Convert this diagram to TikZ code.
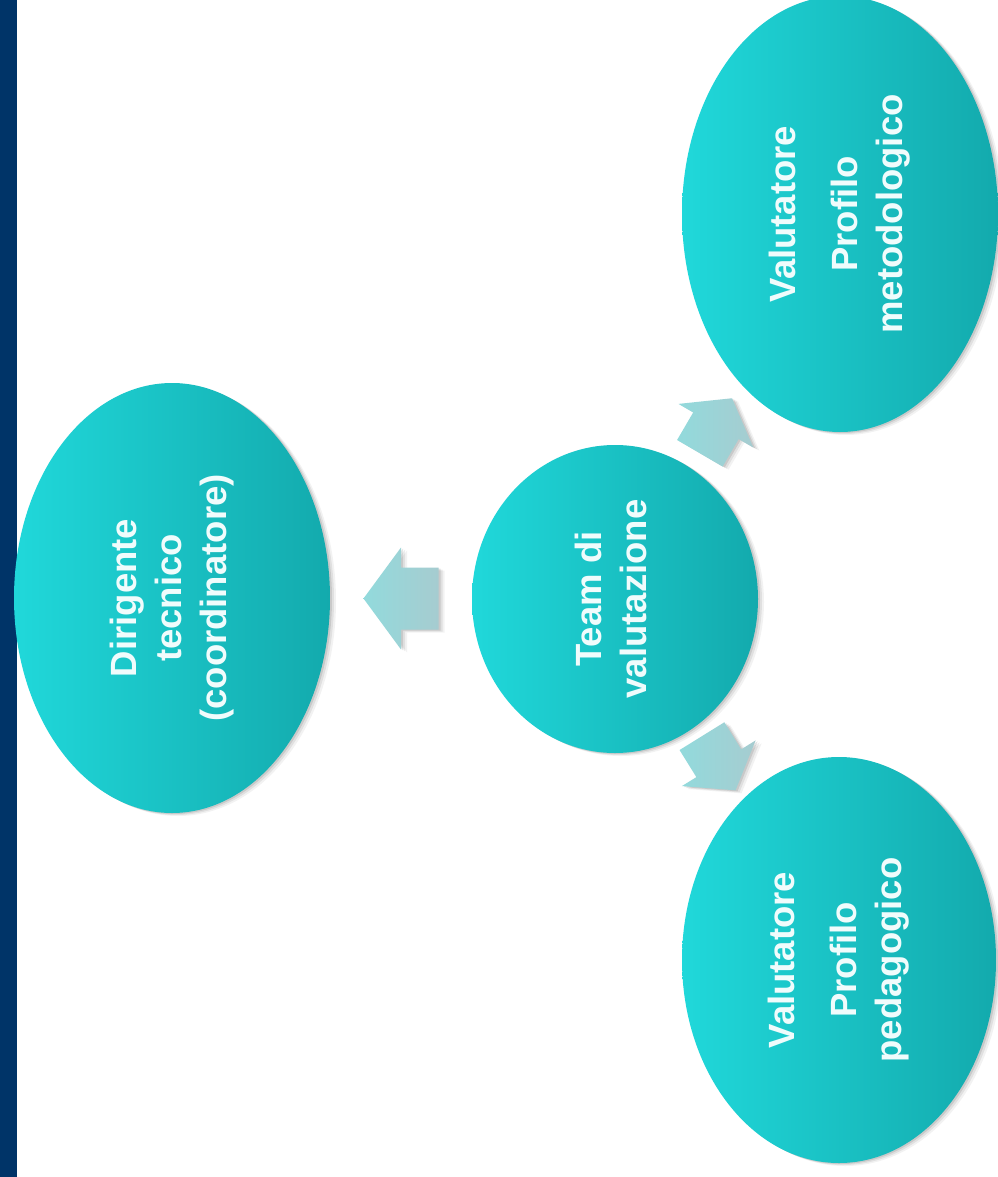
\documentclass[tikz,border=0pt]{standalone}
\usepackage{fontspec}
\setmainfont{Liberation Sans}
\usepackage{graphicx}
\usetikzlibrary{shapes.geometric,shadows,calc}
\definecolor{barblue}{RGB}{0,52,104}
\definecolor{tealL}{RGB}{32,216,218}
\definecolor{tealR}{RGB}{19,170,173}
\definecolor{arrL}{RGB}{146,218,220}
\definecolor{arrR}{RGB}{166,204,208}
\definecolor{txt}{RGB}{240,252,252}
\tikzset{
  softshadow/.style={
    drop shadow={shadow xshift=2pt,shadow yshift=-1pt,opacity=.10,fill=black},
    drop shadow={shadow xshift=4pt,shadow yshift=-2pt,opacity=.07,fill=black},
    drop shadow={shadow xshift=6pt,shadow yshift=-3pt,opacity=.05,fill=black}},
  bubble/.style={ellipse, inner sep=0pt, left color=tealL, right color=tealR,
    softshadow, text=txt, font=\fontsize{36.5}{45}\selectfont\bfseries},
  blockarrow/.style={left color=arrL, right color=arrR, softshadow}
}
\newcommand{\vtext}[1]{\rotatebox{90}{\begin{tabular}{@{}c@{}}#1\end{tabular}}}
\begin{document}
\begin{tikzpicture}[x=1pt,y=-1pt]
\useasboundingbox (0,0) rectangle (997,1177);
\fill[white] (0,0) rectangle (997,1177);
\fill[barblue] (0,0) rectangle (17,1177);

\node[bubble, minimum width=316pt, minimum height=430pt] (dir) at (172,598)
  {\vtext{Dirigente\\tecnico\\(coordinatore)}};
\node[bubble, minimum width=286pt, minimum height=308pt] (team) at (615,599)
  {\vtext{Team di\\valutazione}};
\node[bubble, minimum width=316pt, minimum height=436pt] (met) at (840,214)
  {\vtext{Valutatore\\[17pt]Profilo\\metodologico}};
\node[bubble, minimum width=314pt, minimum height=406pt] (ped) at (839,960)
  {\vtext{Valutatore\\[17pt]Profilo\\pedagogico}};

\coordinate (a1) at ($(team.west)!0.5!(dir.east)$);
\coordinate (a2) at ($(team.59.7)!0.5!(met.239.7)$);
\coordinate (a3) at ($(team.-58.2)!0.5!(ped.121.8)$);

\begin{scope}[shift={(a1)}, rotate=180]
  \path[blockarrow] (37.5,0) -- (0,51) -- (0,31) -- (-37.5,31) -- (-37.5,-31)
    -- (0,-31) -- (0,-51) -- cycle;
\end{scope}
\begin{scope}[shift={(a2)}, rotate=59.7, scale=0.85]
  \path[blockarrow] (37.5,0) -- (0,51) -- (0,31) -- (-37.5,31) -- (-37.5,-31)
    -- (0,-31) -- (0,-51) -- cycle;
\end{scope}
\begin{scope}[shift={(a3)}, rotate=-58.2, scale=0.85]
  \path[blockarrow] (37.5,0) -- (0,51) -- (0,31) -- (-37.5,31) -- (-37.5,-31)
    -- (0,-31) -- (0,-51) -- cycle;
\end{scope}
\end{tikzpicture}
\end{document}
